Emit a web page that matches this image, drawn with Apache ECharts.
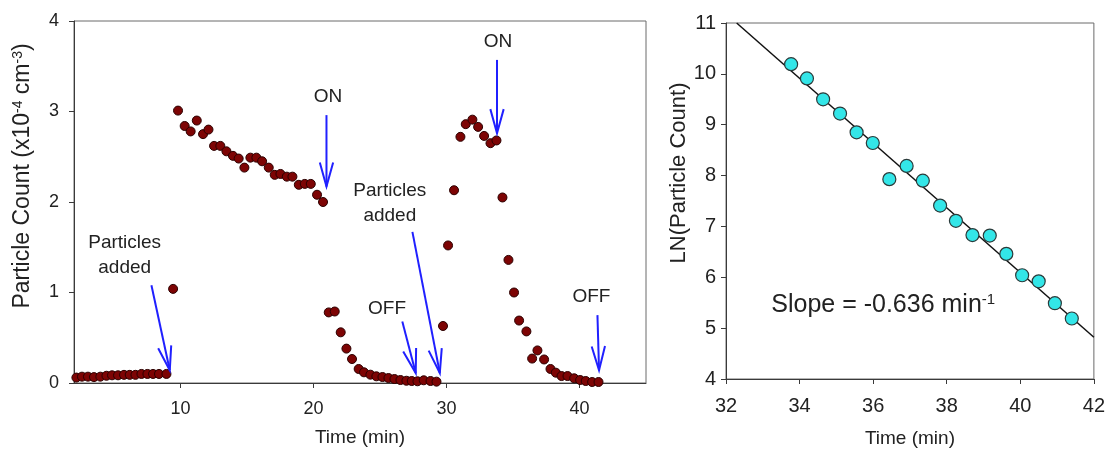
<!DOCTYPE html>
<html>
<head>
<meta charset="utf-8">
<script src="https://cdn.jsdelivr.net/npm/echarts@6/dist/echarts.min.js"></script>
<style>
html,body{margin:0;padding:0;background:#fff;}
#c{width:1108px;height:453px;}
</style>
</head>
<body>
<div id="c"></div>
<script>
// ---- Left panel: particle count time series (x10^4 cm^-3) ----
var leftTime = [2.18,2.60,3.05,3.50,3.98,4.44,4.86,5.31,5.76,6.19,6.62,7.07,7.52,7.94,8.39,8.95,
  9.45,
  9.82,10.32,10.77,11.23,11.70,12.11,12.53,13.00,13.46,13.95,14.38,14.81,15.26,15.71,16.14,16.64,17.09,17.52,18.00,18.42,18.90,19.35,19.80,20.27,20.72,
  21.15,21.60,22.05,22.48,22.90,23.40,23.80,24.28,24.73,25.19,25.64,26.09,26.54,26.99,27.39,27.82,28.29,28.80,29.25,
  29.74,30.12,30.57,31.05,31.45,31.95,32.38,32.83,33.31,33.76,
  34.21,34.66,35.08,35.46,36.01,36.44,36.84,37.34,37.82,38.22,38.65,39.10,39.60,40.05,40.47,40.95,41.43];
var leftCount = [0.06,0.07,0.07,0.065,0.07,0.08,0.085,0.085,0.09,0.09,0.09,0.10,0.10,0.10,0.10,0.10,
  1.04,
  3.01,2.84,2.78,2.90,2.75,2.80,2.62,2.62,2.56,2.51,2.48,2.38,2.49,2.49,2.45,2.38,2.30,2.31,2.28,2.28,2.19,2.20,2.20,2.08,2.00,
  0.78,0.79,0.56,0.38,0.265,0.155,0.118,0.092,0.074,0.066,0.055,0.044,0.033,0.025,0.022,0.019,0.03,0.022,0.015,
  0.63,1.52,2.13,2.72,2.86,2.91,2.83,2.73,2.65,2.68,
  2.05,1.36,1.00,0.69,0.57,0.27,0.36,0.26,0.155,0.114,0.077,0.077,0.052,0.033,0.022,0.011,0.011];

// ---- Right panel: LN(particle count) during decay ----
var rightTime = [33.77,34.20,34.64,35.10,35.55,35.99,36.44,36.91,37.35,37.82,38.25,38.70,39.17,39.62,40.05,40.50,40.94,41.40];
var rightLn   = [10.19,9.91,9.50,9.22,8.85,8.64,7.93,8.19,7.90,7.41,7.11,6.83,6.82,6.46,6.04,5.92,5.49,5.19];
var fitTime = [32.29, 42.0];
var fitLn   = [11.0, 4.82];

// ---- Tick labels ----
var leftXTicks = [10,20,30,40];
var leftYTicks = [0,1,2,3,4];
var rightXTicks = [32,34,36,38,40,42];
var rightYTicks = [4,5,6,7,8,9,10,11];

// ---- Annotations (left panel, data coordinates) ----
var arrowStartX = [7.82, 20.98, 26.68, 27.44, 33.80, 41.35];
var arrowStartY = [1.08, 2.96, 0.68, 1.67, 3.57, 0.75];
var arrowEndX   = [9.20, 20.98, 27.69, 29.50, 33.80, 41.47];
var arrowEndY   = [0.14, 2.17, 0.11, 0.11, 2.76, 0.14];
var noteText = ['Particles\nadded', 'ON', 'Particles\nadded', 'OFF', 'ON', 'OFF'];
var noteX    = [5.81, 21.10, 25.74, 25.53, 33.88, 40.90];
var noteY    = [1.41, 3.16, 1.99, 0.825, 3.77, 0.95];
var slopeText = 'Slope = -0.636 min';
var slopeSup = '-1';
var slopeX = 33.23, slopeY = 5.45;

var FONT = "'Liberation Sans', Arial, Helvetica, sans-serif";
var chart = echarts.init(document.getElementById('c'));

var leftData = leftTime.map(function(t,i){return [t, leftCount[i]];});
var rightData = rightTime.map(function(t,i){return [t, rightLn[i]];});
var fitData = fitTime.map(function(t,i){return [t, fitLn[i]];});
var arrowData = arrowStartX.map(function(x,i){return [x, arrowStartY[i], arrowEndX[i], arrowEndY[i]];});
var noteData = noteX.map(function(x,i){return [x, noteY[i], i];});

var axisLineStyle = {color:'#3a3a3a', width:1};
function xAxisCommon(){
  return {
    type:'value', splitLine:{show:false},
    axisLine:{show:true, onZero:false, lineStyle:axisLineStyle},
    axisTick:{show:true, inside:false, length:5, lineStyle:axisLineStyle},
    nameLocation:'middle',
    nameTextStyle:{fontFamily:FONT, fontSize:19, color:'#222'}
  };
}

var option = {
  animation:false,
  backgroundColor:'#fff',
  textStyle:{fontFamily:FONT},
  grid:[
    {left:74, top:21, width:572, height:362, show:true, borderColor:'#6a6a6a', borderWidth:1, backgroundColor:'transparent'},
    {left:726, top:23, width:371, height:365, show:true, borderColor:'#6a6a6a', borderWidth:1, backgroundColor:'transparent'}
  ],
  xAxis:[
    Object.assign(xAxisCommon(), {
      gridIndex:0, min:2, max:45,
      axisTick:{show:true, inside:false, length:5, lineStyle:axisLineStyle, customValues:leftXTicks},
      axisLabel:{customValues:leftXTicks, fontFamily:FONT, fontSize:18, color:'#222', margin:17},
      name:'Time (min)', nameGap:45
    }),
    Object.assign(xAxisCommon(), {
      gridIndex:1, min:32, max:42, interval:2,
      axisLabel:{fontFamily:FONT, fontSize:20, color:'#222', margin:17,
        formatter:function(v){return rightXTicks.indexOf(v)>=0 ? String(v) : '';}},
      name:'Time (min)', nameGap:50
    })
  ],
  yAxis:[
    {
      type:'value', gridIndex:0, min:0, max:4, interval:1, splitLine:{show:false},
      axisLine:{show:true, onZero:false, lineStyle:axisLineStyle},
      axisTick:{show:true, inside:false, length:5, lineStyle:axisLineStyle},
      axisLabel:{fontFamily:FONT, fontSize:18, color:'#222', margin:15,
        formatter:function(v){return leftYTicks.indexOf(v)>=0 ? String(v) : '';}},
      name:'{n|Particle Count (x10}{s|-4}{n| cm}{s|-3}{n|)}',
      nameLocation:'middle', nameGap:40,
      nameTextStyle:{padding:[0,0,0,52], rich:{
        n:{fontFamily:FONT, fontSize:23, color:'#222'},
        s:{fontFamily:FONT, fontSize:14, color:'#222', verticalAlign:'top'}
      }}
    },
    {
      type:'value', gridIndex:1, min:4, max:11, interval:1, splitLine:{show:false},
      axisLine:{show:true, onZero:false, lineStyle:axisLineStyle},
      axisTick:{show:true, inside:false, length:5, lineStyle:axisLineStyle},
      axisLabel:{fontFamily:FONT, fontSize:20, color:'#222', margin:10,
        formatter:function(v){return rightYTicks.indexOf(v)>=0 ? String(v) : '';}},
      name:'LN(Particle Count)', nameLocation:'middle', nameGap:33,
      nameTextStyle:{fontFamily:FONT, fontSize:22, color:'#222', padding:[0,0,0,56]}
    }
  ],
  series:[
    {
      type:'scatter', xAxisIndex:0, yAxisIndex:0, data:leftData, symbolSize:9, z:3,
      itemStyle:{color:'#7d0404', borderColor:'#2b0000', borderWidth:1, opacity:1}
    },
    {
      type:'custom', xAxisIndex:0, yAxisIndex:0, data:arrowData, z:4, silent:true,
      renderItem:function(params, api){
        var p1 = api.coord([api.value(0), api.value(1)]);
        var p2 = api.coord([api.value(2), api.value(3)]);
        var ang = Math.atan2(p2[1]-p1[1], p2[0]-p1[0]);
        var L = 25, a = 0.27;
        var h1 = [p2[0]-L*Math.cos(ang-a), p2[1]-L*Math.sin(ang-a)];
        var h2 = [p2[0]-L*Math.cos(ang+a), p2[1]-L*Math.sin(ang+a)];
        return {type:'group', children:[
          {type:'line', shape:{x1:p1[0], y1:p1[1], x2:p2[0], y2:p2[1]}, style:{stroke:'#2020ff', lineWidth:2}},
          {type:'polyline', shape:{points:[h1, p2, h2]}, style:{stroke:'#2020ff', lineWidth:2, fill:null}}
        ]};
      }
    },
    {
      type:'custom', xAxisIndex:0, yAxisIndex:0, data:noteData, z:5, silent:true,
      renderItem:function(params, api){
        var p = api.coord([api.value(0), api.value(1)]);
        return {type:'text', x:p[0], y:p[1], style:{
          text:noteText[api.value(2)], fill:'#222', fontFamily:FONT, fontSize:19,
          lineHeight:25, align:'center', verticalAlign:'middle'}};
      }
    },
    {
      type:'line', xAxisIndex:1, yAxisIndex:1, data:fitData, symbol:'none', z:2,
      lineStyle:{color:'#111', width:1.5}
    },
    {
      type:'scatter', xAxisIndex:1, yAxisIndex:1, data:rightData, symbolSize:13, z:3,
      itemStyle:{color:'#33e6e8', borderColor:'#2a3a3a', borderWidth:1.2, opacity:1}
    },
    {
      type:'custom', xAxisIndex:1, yAxisIndex:1, data:[[slopeX, slopeY]], z:5, silent:true,
      renderItem:function(params, api){
        var p = api.coord([api.value(0), api.value(1)]);
        return {type:'text', x:p[0], y:p[1], style:{
          text:'{a|'+slopeText+'}{b|'+slopeSup+'}', align:'left', verticalAlign:'middle',
          rich:{
            a:{fontFamily:FONT, fontSize:25, fill:'#222', color:'#222'},
            b:{fontFamily:FONT, fontSize:15, fill:'#222', color:'#222', verticalAlign:'top'}
          }}};
      }
    }
  ]
};
chart.setOption(option);
</script>
</body>
</html>
